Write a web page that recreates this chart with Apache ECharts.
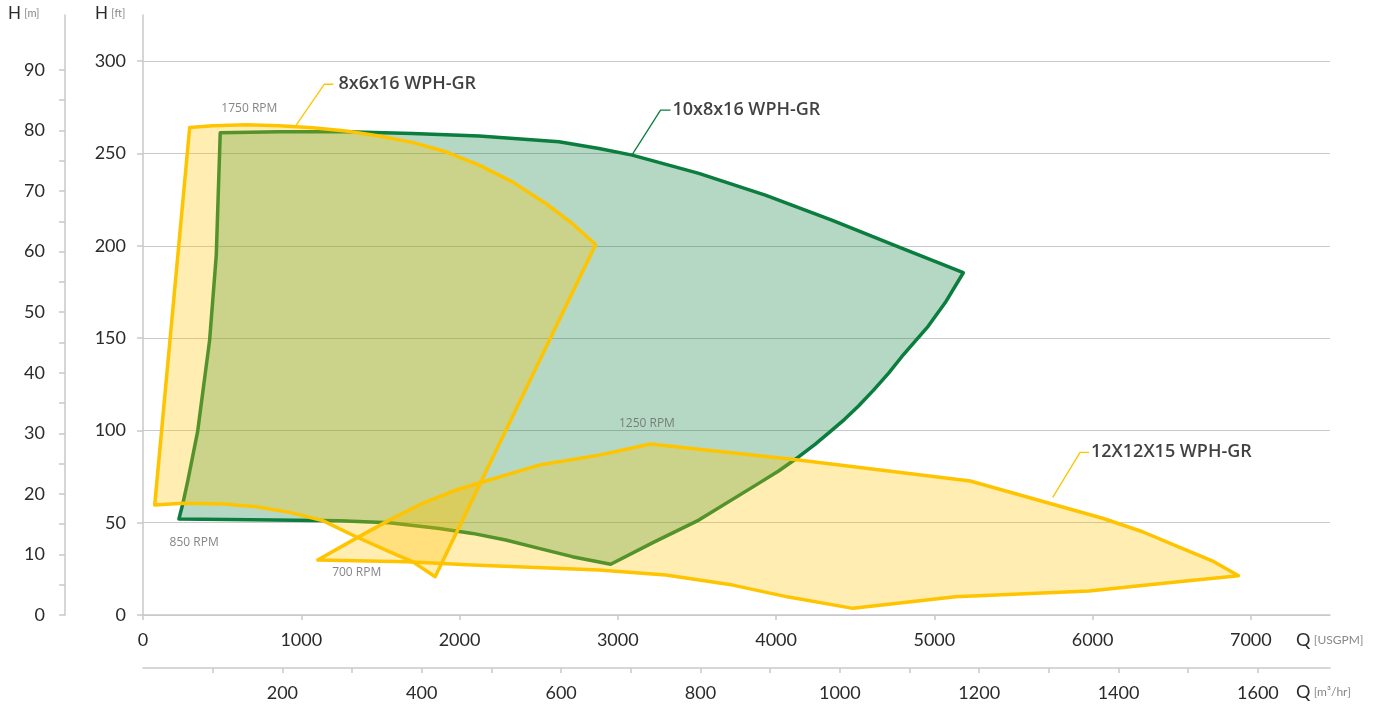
<!DOCTYPE html>
<html>
<head>
<meta charset="utf-8">
<script src="https://cdn.jsdelivr.net/npm/echarts@6/dist/echarts.min.js"></script>
<style>
  html, body { margin: 0; padding: 0; background: #fff; }
  #chart { width: 1387px; height: 706px; }
</style>
</head>
<body>
<div id="chart"></div>
<script>
// flow Q [USGPM], head H [ft]
const pump10x8x16 = [
  [488, 261.2], [862, 261.7], [1283, 261.7], [1703, 260.8], [2124, 259.4],
  [2628, 256.3], [2881, 252.7], [3091, 249.1], [3512, 239.2], [3932, 227.4],
  [4352, 213.9], [4773, 199.4], [5183, 185.4],
  [5068, 169.1], [4962, 156.5], [4794, 139.9], [4710, 130.9],
  [4616, 121.8], [4521, 113.2], [4433, 106.0], [4342, 99.3], [4248, 92.6],
  [4142, 85.6], [4016, 78.0], [3890, 71.3], [3512, 51.4], [3228, 39.5], [2955, 27.5],
  [2712, 31.6], [2502, 36.1], [2292, 40.6], [2082, 44.2], [1872, 46.9],
  [1556, 50.0], [1241, 51.1], [820, 51.4], [227, 52.0],
  [252, 60.5], [284, 73.1], [345, 99.3], [421, 148.9], [463, 194.9]
];
const pump8x6x16 = [
  [295, 264.1], [442, 265.0], [652, 265.5], [862, 265.0], [1072, 263.9],
  [1283, 262.2], [1493, 259.5], [1703, 256.0], [1914, 250.9], [2124, 243.7],
  [2334, 234.6], [2545, 222.9], [2712, 212.1], [2860, 200.7],
  [1846, 20.7], [1703, 28.9], [1556, 34.3], [1346, 42.4], [1135, 51.1],
  [925, 55.6], [715, 58.6], [505, 60.1], [252, 60.5], [74, 59.6]
];
const pump12x12x15 = [
  [1104, 29.8], [1346, 41.5], [1556, 51.4], [1766, 60.5], [1977, 67.7],
  [2187, 73.1], [2502, 81.2], [2881, 86.6], [3206, 92.6], [4142, 83.9],
  [5227, 72.6], [6063, 52.4], [6316, 45.1],
  [6539, 37.0], [6767, 28.9], [6922, 21.3],
  [6542, 18.0], [5978, 13.0], [5133, 9.9], [4486, 3.6], [4079, 9.7],
  [3726, 16.2], [3303, 21.7], [2881, 24.4], [2082, 27.1], [1662, 28.9]
];

// leader lines and labels
const leader8x6x16 = [[968, 265.3], [1146, 287.5], [1203, 287.5]];
const leader10x8x16 = [[3089, 249.1], [3270, 273.5], [3333, 273.5]];
const leader12x12x15 = [[5748, 63.7], [5921, 88.1], [5978, 88.1]];
const modelLabels = [
  [1235, 287.5, '8x6x16 WPH-GR'],
  [3345, 273.5, '10x8x16 WPH-GR'],
  [5990, 88.1, '12X12X15 WPH-GR']
];
const rpmLabels = [
  [495, 274.4, '1750 RPM'],
  [168, 39.0, '850 RPM'],
  [1195, 22.9, '700 RPM'],
  [3007, 103.8, '1250 RPM']
];

// axis ticks
const qTicks = [0, 1000, 2000, 3000, 4000, 5000, 6000, 7000];
const m3hTicks = [100, 200, 300, 400, 500, 600, 700, 800, 900, 1000, 1100, 1200, 1300, 1400, 1500, 1600];
const m3hLabels = [200, 400, 600, 800, 1000, 1200, 1400, 1600];
const ftTicks = [0, 50, 100, 150, 200, 250, 300];
const mTicks = [0, 5, 10, 15, 20, 25, 30, 35, 40, 45, 50, 55, 60, 65, 70, 75, 80, 85, 90];
const mLabels = [0, 10, 20, 30, 40, 50, 60, 70, 80, 90];

const GPM_PER_M3H = 4.40287;
const FT_PER_M = 3.28084;
const Q_MAX = 7500;
const H_MAX = 325;

const GREEN = '#0b7d3e';
const YELLOW = '#ffc400';
const AXIS = '#c9c9c9';
const FONT = 'Lato';

function areaSeries(name, pts, stroke, fill) {
  return {
    name: name,
    type: 'custom',
    coordinateSystem: 'cartesian2d',
    data: pts,
    silent: true,
    animation: false,
    renderItem: function (params, api) {
      if (params.dataIndex !== 0) return;
      return {
        type: 'polygon',
        shape: { points: pts.map(function (p) { return api.coord(p); }) },
        style: { fill: fill, stroke: stroke, lineWidth: 3.5, lineJoin: 'round' }
      };
    }
  };
}

function leader(pts, color) {
  return {
    type: 'line', data: pts, symbol: 'none', silent: true, animation: false,
    lineStyle: { color: color, width: 1.3 }, z: 3
  };
}

const plain = function (v) { return String(v); };
const tickLabel = { color: '#2b2b2b', fontSize: 18, fontFamily: FONT, formatter: plain };

const chart = echarts.init(document.getElementById('chart'));
chart.setOption({
  backgroundColor: '#fff',
  animation: false,
  grid: { left: 143, right: 57, top: 15, bottom: 91 },
  xAxis: [
    {
      type: 'value', min: 0, max: Q_MAX, position: 'bottom',
      axisLine: { onZero: false, lineStyle: { color: AXIS, width: 1.5 } },
      axisTick: { customValues: qTicks, length: 5, lineStyle: { color: AXIS, width: 1.5 } },
      axisLabel: Object.assign({ customValues: qTicks, margin: 16 }, tickLabel),
      splitLine: { show: false }
    },
    {
      type: 'value', min: 0, max: Q_MAX / GPM_PER_M3H, position: 'bottom', offset: 53,
      axisLine: { show: true, onZero: false, lineStyle: { color: AXIS, width: 1.5 } },
      axisTick: { show: true, customValues: m3hTicks, length: 5, lineStyle: { color: AXIS, width: 1.5 } },
      axisLabel: Object.assign({ customValues: m3hLabels, margin: 16 }, tickLabel),
      splitLine: { show: false }
    }
  ],
  yAxis: [
    {
      type: 'value', min: 0, max: H_MAX, position: 'left',
      axisLine: { show: true, onZero: false, lineStyle: { color: AXIS, width: 1.5 } },
      axisTick: { show: true, customValues: ftTicks, length: 6, lineStyle: { color: AXIS, width: 1.5 } },
      axisLabel: Object.assign({ customValues: ftTicks, margin: 17 }, tickLabel),
      splitLine: { show: true, lineStyle: { color: AXIS, width: 1.2 } }
    },
    {
      type: 'value', min: 0, max: H_MAX / FT_PER_M, position: 'left', offset: 78,
      axisLine: { show: true, onZero: false, lineStyle: { color: AXIS, width: 1.5 } },
      axisTick: { show: true, customValues: mTicks, length: 6, lineStyle: { color: AXIS, width: 1.5 } },
      axisLabel: Object.assign({ customValues: mLabels, margin: 20 }, tickLabel),
      splitLine: { show: false }
    }
  ],
  graphic: [
    { type: 'text', left: 8, top: 5, style: { text: '{a|H} {b|[m]}', rich: {
      a: { fontSize: 17, fontFamily: FONT, fill: '#2b2b2b' },
      b: { fontSize: 11, fontFamily: FONT, fill: '#888' } } } },
    { type: 'text', left: 95, top: 5, style: { text: '{a|H} {b|[ft]}', rich: {
      a: { fontSize: 17, fontFamily: FONT, fill: '#2b2b2b' },
      b: { fontSize: 11, fontFamily: FONT, fill: '#888' } } } },
    { type: 'text', left: 1296, top: 631, style: { text: '{a|Q} {b|[USGPM]}', rich: {
      a: { fontSize: 18, fontFamily: FONT, fill: '#2b2b2b' },
      b: { fontSize: 12, fontFamily: FONT, fill: '#888' } } } },
    { type: 'text', left: 1296, top: 683, style: { text: '{a|Q} {b|[m³/hr]}', rich: {
      a: { fontSize: 18, fontFamily: FONT, fill: '#2b2b2b' },
      b: { fontSize: 12, fontFamily: FONT, fill: '#888' } } } }
  ],
  series: [
    areaSeries('10x8x16 WPH-GR', pump10x8x16, GREEN, 'rgba(11,125,62,0.3)'),
    areaSeries('8x6x16 WPH-GR', pump8x6x16, YELLOW, 'rgba(255,196,0,0.3)'),
    areaSeries('12X12X15 WPH-GR', pump12x12x15, YELLOW, 'rgba(255,196,0,0.3)'),
    leader(leader8x6x16, YELLOW),
    leader(leader10x8x16, GREEN),
    leader(leader12x12x15, YELLOW),
    {
      type: 'scatter', data: modelLabels, symbolSize: 0, silent: true, animation: false, z: 4,
      label: {
        show: true, position: 'right', distance: 0,
        formatter: function (p) { return p.value[2]; },
        color: '#111', fontSize: 18, fontWeight: 600, fontFamily: 'Open Sans'
      }
    },
    {
      type: 'scatter', data: rpmLabels, symbolSize: 0, silent: true, animation: false, z: 4,
      label: {
        show: true, position: 'right', distance: 0,
        formatter: function (p) { return p.value[2]; },
        color: '#666', fontSize: 12, fontFamily: 'Open Sans'
      }
    }
  ]
});
</script>
</body>
</html>
